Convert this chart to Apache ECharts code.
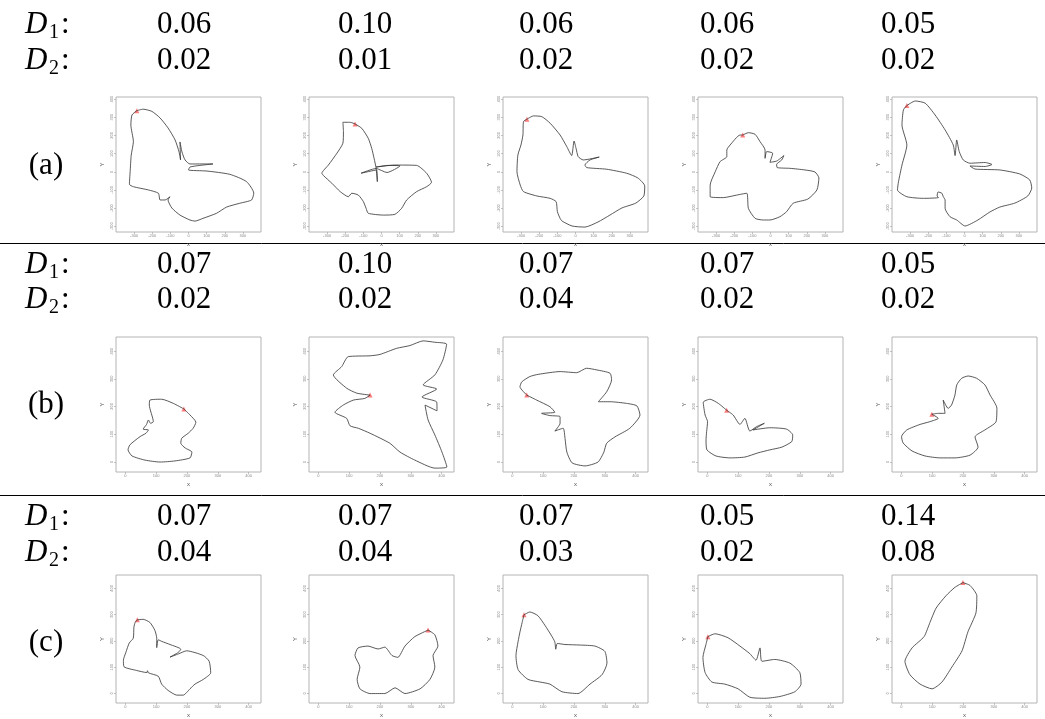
<!DOCTYPE html>
<html><head><meta charset="utf-8">
<script src="https://cdn.jsdelivr.net/npm/echarts@6/dist/echarts.min.js"></script>
<style>html,body{margin:0;padding:0;background:#fff}#c{width:1045px;height:719px}</style>
</head><body><div id="c"></div>
<script>
// ---------- data ----------
const rowLabels = ['(a)', '(b)', '(c)'];
const d1Values = [['0.06','0.10','0.06','0.06','0.05'],['0.07','0.10','0.07','0.07','0.05'],['0.07','0.07','0.07','0.05','0.14']];
const d2Values = [['0.02','0.01','0.02','0.02','0.02'],['0.02','0.02','0.04','0.02','0.02'],['0.04','0.04','0.03','0.02','0.08']];
const xTicksA = [-300,-200,-100,0,100,200,300];
const yTicksA = [-300,-200,-100,0,100,200,300,400];
const xTicksBC = [0,100,200,300,400];
const yTicksBC = [0,100,200,300,400];

const curveA1 = [[-285,336],[-250,344],[-202,332],[-157,296],[-113,241],[-74,175],[-52,109],[-44,65],[-47,164],[-36,109],[-19,65],[8,43],[135,43],[63,35],[8,26],[0,10],[102,4],[228,-14],[320,-54],[360,-117],[348,-155],[283,-173],[210,-194],[155,-228],[80,-256],[36,-271],[8,-265],[-47,-238],[-92,-199],[-113,-155],[-102,-137],[-129,-155],[-157,-155],[-166,-118],[-221,-100],[-304,-82],[-326,-69],[-322,0],[-316,92],[-304,166],[-318,257],[-312,312],[-285,336]];
const curveA2 = [[-146,263],[-109,239],[-73,184],[-54,129],[-41,74],[-30,21],[-23,-54],[-27,10],[-113,-8],[-30,18],[30,-4],[102,32],[36,35],[-30,26],[74,37],[194,35],[249,-8],[276,-58],[249,-82],[194,-109],[139,-155],[111,-201],[74,-234],[10,-238],[-73,-228],[-85,-201],[-100,-164],[-128,-128],[-164,-118],[-183,-137],[-228,-109],[-274,-63],[-320,-21],[-329,-8],[-293,37],[-246,102],[-213,157],[-210,221],[-213,272],[-173,272],[-146,263]];
const curveA3 = [[-268,289],[-232,307],[-186,303],[-140,267],[-85,202],[-48,138],[-21,89],[-8,169],[3,129],[15,83],[43,65],[131,81],[80,65],[52,37],[62,23],[172,14],[282,-8],[344,-34],[382,-78],[377,-133],[333,-172],[256,-199],[190,-238],[124,-276],[52,-304],[-19,-298],[-74,-271],[-85,-256],[-100,-219],[-107,-164],[-140,-146],[-213,-133],[-287,-109],[-305,-73],[-323,0],[-318,92],[-301,147],[-290,202],[-287,276],[-268,289]];
const curveA4 = [[-153,202],[-122,215],[-85,206],[-58,166],[-30,120],[-30,74],[-21,111],[12,102],[-3,52],[34,59],[74,89],[62,65],[34,41],[37,23],[107,19],[190,10],[245,-1],[267,-34],[256,-100],[206,-150],[125,-173],[89,-219],[52,-247],[-3,-265],[-40,-265],[-85,-256],[-122,-201],[-131,-118],[-186,-128],[-260,-142],[-333,-137],[-333,-73],[-305,0],[-278,56],[-241,83],[-241,120],[-223,147],[-168,202],[-153,202]];
const curveA5 = [[-318,364],[-272,389],[-217,377],[-162,312],[-107,230],[-62,147],[-52,89],[-43,175],[-29,111],[-7,65],[30,47],[113,51],[151,40],[113,29],[30,32],[58,15],[195,10],[305,-12],[360,-45],[371,-89],[349,-133],[278,-172],[195,-194],[140,-221],[74,-265],[3,-298],[-43,-265],[-80,-247],[-107,-201],[-107,-155],[-117,-137],[-125,-118],[-146,-111],[-151,-133],[-144,-142],[-227,-146],[-318,-137],[-370,-100],[-364,-54],[-345,37],[-318,147],[-345,257],[-337,340],[-318,364]];

const curveB1 = [[190,191],[210,169],[229,143],[220,121],[204,103],[183,85],[180,67],[194,50],[216,35],[210,14],[161,3],[113,-1],[64,6],[22,21],[9,43],[15,61],[48,91],[67,103],[75,115],[58,118],[69,135],[75,151],[82,139],[91,145],[78,205],[80,223],[118,226],[156,211],[190,191]];
const curveB2 = [[168,241],[125,248],[92,266],[49,314],[76,344],[97,380],[168,383],[200,388],[254,410],[297,420],[340,437],[378,432],[416,425],[404,368],[378,314],[340,278],[384,263],[336,234],[384,216],[385,184],[346,205],[356,151],[378,97],[401,35],[417,-19],[378,-23],[313,6],[265,35],[232,67],[168,103],[130,121],[103,130],[92,157],[54,179],[81,205],[114,223],[151,229],[168,241]];
const curveB3 = [[47,241],[25,271],[31,289],[57,308],[84,316],[155,326],[209,322],[241,338],[274,332],[317,320],[322,296],[306,253],[279,217],[317,217],[371,211],[404,202],[414,169],[381,121],[333,90],[306,67],[297,35],[278,-1],[236,-15],[194,-4],[177,35],[171,85],[165,121],[138,111],[155,139],[155,163],[122,167],[95,175],[138,179],[122,199],[79,223],[47,241]];
const curveB4 = [[63,186],[84,169],[106,135],[122,157],[138,111],[160,127],[185,139],[148,115],[203,123],[257,118],[277,97],[274,73],[242,53],[203,43],[164,32],[122,17],[74,14],[28,21],[-1,43],[-4,79],[-2,109],[1,145],[-7,169],[-13,215],[9,226],[36,211],[63,186]];
const curveB5 = [[99,172],[120,175],[142,175],[136,223],[152,193],[163,205],[174,241],[180,278],[196,302],[217,310],[244,302],[271,278],[288,241],[310,194],[307,144],[271,115],[239,90],[249,53],[223,24],[174,14],[126,14],[77,21],[35,39],[6,68],[1,91],[18,115],[61,135],[93,145],[120,157],[99,172]];

const curveC1 = [[39,280],[58,282],[80,270],[96,240],[102,210],[102,174],[107,204],[118,198],[145,186],[180,168],[172,156],[145,138],[172,150],[199,162],[253,144],[272,122],[277,78],[253,53],[226,35],[210,17],[188,-7],[167,-7],[139,11],[118,35],[107,65],[75,78],[72,86],[70,79],[37,87],[-4,101],[-6,126],[2,156],[13,192],[26,210],[28,252],[32,270],[39,280]];
const curveC2 = [[356,241],[378,223],[388,180],[372,144],[378,100],[362,53],[330,17],[281,-1],[249,21],[216,-1],[168,-1],[135,17],[126,53],[135,100],[119,144],[129,173],[161,180],[194,169],[216,176],[239,144],[258,137],[281,180],[313,216],[356,241]];
const curveC3 = [[38,299],[57,310],[83,296],[106,259],[126,222],[138,196],[141,168],[146,190],[171,186],[219,184],[268,180],[300,160],[307,115],[291,71],[252,35],[213,-1],[161,6],[122,35],[90,43],[51,53],[19,90],[12,144],[19,198],[25,234],[32,270],[38,299]];
const curveC4 = [[2,216],[25,227],[67,212],[106,180],[138,151],[158,126],[171,173],[177,122],[219,129],[268,115],[300,79],[304,35],[284,6],[236,-12],[187,-19],[138,-15],[100,17],[57,35],[15,43],[-7,79],[-14,137],[-4,187],[2,216]];
const curveC5 = [[200,422],[223,411],[245,372],[242,306],[216,234],[197,162],[164,100],[132,43],[100,17],[61,35],[28,71],[12,122],[35,173],[74,216],[93,270],[113,325],[145,372],[174,404],[200,422]];

const curves = [
  [curveA1, curveA2, curveA3, curveA4, curveA5],
  [curveB1, curveB2, curveB3, curveB4, curveB5],
  [curveC1, curveC2, curveC3, curveC4, curveC5]
];

// ---------- layout ----------
const plotLefts = [116, 309, 503, 698, 892];
const rowTops = [97, 337, 575];
const plotW = 145, plotH = 135;
const rowRanges = [
  {x: [-400, 400], y: [-331, 411], xt: xTicksA, yt: yTicksA},
  {x: [-30, 440], y: [-37, 451], xt: xTicksBC, yt: yTicksBC},
  {x: [-30, 440], y: [-37, 451], xt: xTicksBC, yt: yTicksBC}
];
const valueX = [184, 365, 546, 727, 908];
const textRowY = [[25, 61], [265, 300], [517, 553]];
const labelY = [166, 405, 643];
const ruleY = [243.5, 495.5];

const SERIF = '"Liberation Serif", "DejaVu Serif", serif';
const grids = [], xAxes = [], yAxes = [], series = [], graphics = [];

for (let r = 0; r < 3; r++) {
  const rg = rowRanges[r];
  for (let c = 0; c < 5; c++) {
    const idx = r * 5 + c;
    grids.push({left: plotLefts[c], top: rowTops[r], width: plotW, height: plotH,
      show: true, borderColor: '#b4b4b4', borderWidth: 1, backgroundColor: 'transparent'});
    xAxes.push({type: 'value', gridIndex: idx, min: rg.x[0], max: rg.x[1], position: 'bottom',
      axisLine: {show: false, onZero: false}, splitLine: {show: false},
      axisTick: {show: true, length: 2, inside: false, customValues: rg.xt, lineStyle: {color: '#a0a0a0', width: 0.6}},
      axisLabel: {show: true, customValues: rg.xt, fontSize: 4, color: '#8a8a8a', margin: 2, fontFamily: 'Liberation Sans'},
      name: 'x', nameLocation: 'middle', nameGap: 9, nameTextStyle: {fontSize: 6, color: '#555', fontFamily: 'Liberation Sans'}});
    yAxes.push({type: 'value', gridIndex: idx, min: rg.y[0], max: rg.y[1], position: 'left',
      axisLine: {show: false, onZero: false}, splitLine: {show: false},
      axisTick: {show: true, length: 2, customValues: rg.yt, lineStyle: {color: '#a0a0a0', width: 0.6}},
      axisLabel: {show: true, customValues: rg.yt, fontSize: 4, color: '#8a8a8a', margin: 2, rotate: 90, fontFamily: 'Liberation Sans'},
      name: 'Y', nameLocation: 'middle', nameGap: 11, nameRotate: 90, nameTextStyle: {fontSize: 6, color: '#555', fontFamily: 'Liberation Sans'}});
    const curve = curves[r][c];
    series.push({type: 'line', xAxisIndex: idx, yAxisIndex: idx, data: curve,
      showSymbol: false, symbol: 'none', smooth: 0.2, silent: true,
      lineStyle: {color: '#303030', width: 0.8}});
    series.push({type: 'scatter', xAxisIndex: idx, yAxisIndex: idx, data: [curve[0]],
      symbol: 'triangle', symbolSize: 5, silent: true, itemStyle: {color: '#ff5c5c'}});
  }
  // text rows
  const dvals = [d1Values[r], d2Values[r]];
  for (let k = 0; k < 2; k++) {
    const y = textRowY[r][k];
    graphics.push({type: 'text', x: 25, y: y, style: {text: 'D', font: 'italic 31px ' + SERIF, fill: '#000', align: 'left', verticalAlign: 'middle'}});
    graphics.push({type: 'text', x: 49, y: y + 8, style: {text: String(k + 1), font: '20px ' + SERIF, fill: '#000', align: 'left', verticalAlign: 'middle'}});
    graphics.push({type: 'text', x: 61, y: y, style: {text: ':', font: '31px ' + SERIF, fill: '#000', align: 'left', verticalAlign: 'middle'}});
    for (let c = 0; c < 5; c++) {
      graphics.push({type: 'text', x: valueX[c], y: y, style: {text: dvals[k][c], font: '31px ' + SERIF, fill: '#000', align: 'center', verticalAlign: 'middle'}});
    }
  }
  graphics.push({type: 'text', x: 46, y: labelY[r], style: {text: rowLabels[r], font: '31px ' + SERIF, fill: '#000', align: 'center', verticalAlign: 'middle'}});
}
ruleY.forEach(y => graphics.push({type: 'line', shape: {x1: 0, y1: y, x2: 1045, y2: y}, style: {stroke: '#000', lineWidth: 1}}));

const chart = echarts.init(document.getElementById('c'), null, {renderer: 'canvas'});
chart.setOption({
  animation: false,
  backgroundColor: '#fff',
  grid: grids, xAxis: xAxes, yAxis: yAxes, series: series, graphic: graphics
});
</script></body></html>
